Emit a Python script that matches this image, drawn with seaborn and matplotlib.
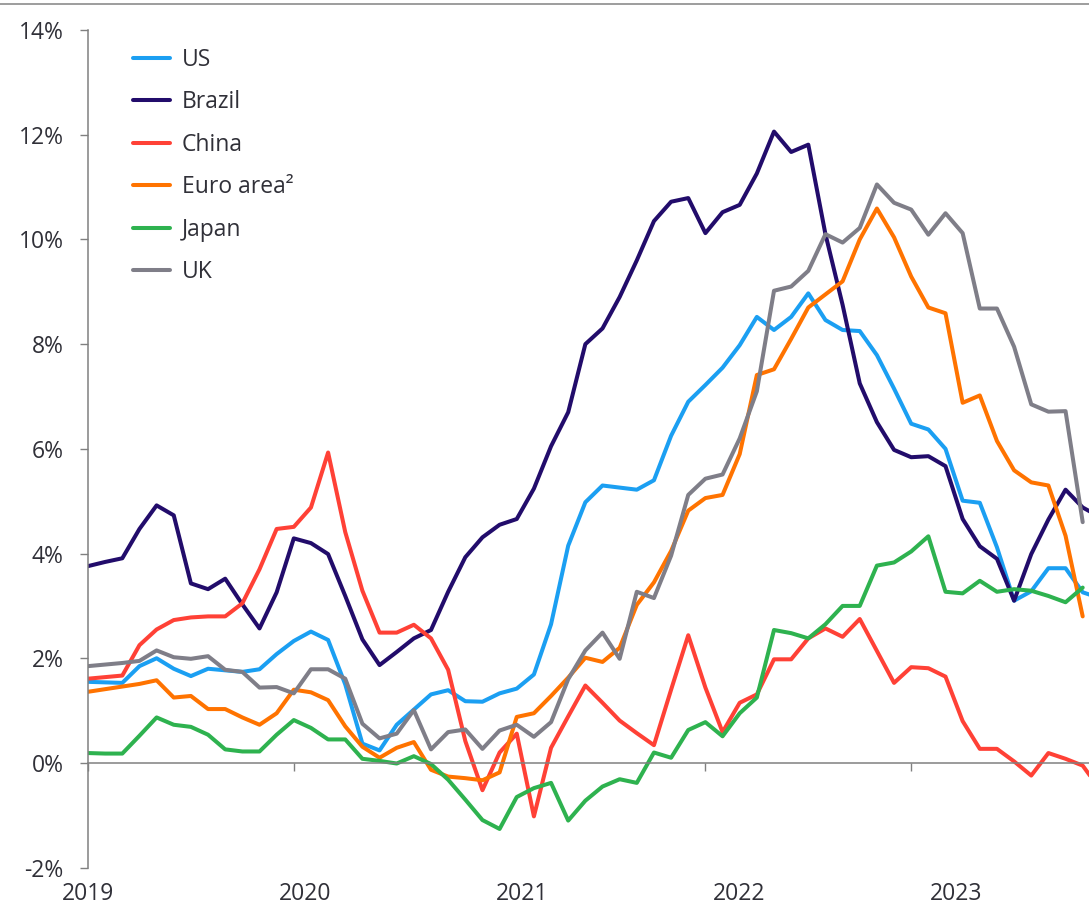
import matplotlib
matplotlib.use("Agg")
import matplotlib.pyplot as plt
from matplotlib.lines import Line2D
from matplotlib.ticker import FuncFormatter, FixedLocator
import seaborn as sns
import pandas as pd

# Monthly headline inflation, % y/y (month 0 sits on the "2019" tick)
us = [1.55, 1.54, 1.53, 1.85, 2.00, 1.80, 1.66, 1.80, 1.77, 1.74, 1.79, 2.08,
      2.33, 2.51, 2.35, 1.50, 0.37, 0.24, 0.73, 1.02, 1.31, 1.39, 1.18, 1.17,
      1.33, 1.42, 1.69, 2.65, 4.15, 4.98, 5.30, 5.26, 5.22, 5.40, 6.25, 6.90,
      7.22, 7.55, 7.98, 8.52, 8.27, 8.52, 8.97, 8.46, 8.27, 8.25, 7.79, 7.15,
      6.48, 6.37, 6.00, 5.01, 4.97, 4.12, 3.10, 3.28, 3.72, 3.72, 3.26, 3.15]
brazil = [3.76, 3.84, 3.91, 4.47, 4.92, 4.73, 3.43, 3.32, 3.52, 3.03, 2.57, 3.26,
          4.29, 4.20, 3.99, 3.19, 2.36, 1.87, 2.12, 2.38, 2.54, 3.27, 3.93, 4.31,
          4.55, 4.66, 5.24, 6.05, 6.70, 8.00, 8.30, 8.90, 9.60, 10.35, 10.72, 10.79,
          10.12, 10.52, 10.66, 11.26, 12.06, 11.67, 11.81, 10.10, 8.75, 7.25, 6.51, 5.98,
          5.84, 5.86, 5.67, 4.66, 4.14, 3.90, 3.10, 3.99, 4.65, 5.22, 4.88, 4.70]
china = [1.61, 1.64, 1.67, 2.25, 2.55, 2.73, 2.78, 2.80, 2.80, 3.05, 3.70, 4.47,
         4.51, 4.88, 5.93, 4.41, 3.29, 2.49, 2.49, 2.64, 2.38, 1.78, 0.42, -0.52,
         0.20, 0.56, -1.02, 0.29, 0.89, 1.48, 1.15, 0.81, 0.57, 0.34, 1.40, 2.44,
         1.44, 0.59, 1.15, 1.31, 1.98, 1.98, 2.38, 2.57, 2.41, 2.75, 2.14, 1.53,
         1.83, 1.81, 1.65, 0.80, 0.27, 0.27, 0.03, -0.24, 0.19, 0.08, -0.05, -0.50]
euro = [1.36, 1.41, 1.46, 1.51, 1.58, 1.25, 1.28, 1.03, 1.03, 0.87, 0.73, 0.95,
        1.40, 1.35, 1.20, 0.70, 0.31, 0.10, 0.29, 0.40, -0.13, -0.26, -0.29, -0.33,
        -0.18, 0.88, 0.95, 1.28, 1.63, 2.01, 1.93, 2.20, 3.02, 3.45, 4.05, 4.82,
        5.06, 5.12, 5.90, 7.41, 7.52, 8.10, 8.70, 8.95, 9.20, 10.00, 10.59, 10.04,
        9.29, 8.70, 8.59, 6.88, 7.02, 6.15, 5.59, 5.36, 5.30, 4.34, 2.80]
japan = [0.19, 0.18, 0.18, 0.52, 0.87, 0.73, 0.69, 0.54, 0.26, 0.22, 0.22, 0.54,
         0.82, 0.67, 0.45, 0.45, 0.08, 0.04, -0.01, 0.13, -0.02, -0.32, -0.70, -1.09,
         -1.26, -0.65, -0.48, -0.38, -1.10, -0.72, -0.45, -0.31, -0.38, 0.20, 0.10, 0.63,
         0.78, 0.51, 0.95, 1.25, 2.54, 2.48, 2.38, 2.65, 3.00, 3.00, 3.77, 3.83,
         4.04, 4.33, 3.27, 3.24, 3.48, 3.27, 3.32, 3.29, 3.19, 3.07, 3.35]
uk = [1.85, 1.88, 1.91, 1.95, 2.15, 2.02, 1.99, 2.04, 1.78, 1.74, 1.44, 1.45,
      1.33, 1.79, 1.79, 1.61, 0.75, 0.47, 0.56, 1.01, 0.26, 0.59, 0.64, 0.27,
      0.62, 0.73, 0.50, 0.78, 1.60, 2.15, 2.49, 1.99, 3.27, 3.15, 3.96, 5.12,
      5.43, 5.51, 6.20, 7.10, 9.02, 9.10, 9.40, 10.10, 9.94, 10.22, 11.05, 10.70,
      10.57, 10.09, 10.50, 10.12, 8.68, 8.68, 7.95, 6.85, 6.71, 6.72, 4.60]

series_names = ["US", "Brazil", "China", "Euro area\u00b2", "Japan", "UK"]
series_values = [us, brazil, china, euro, japan, uk]
colors = ["#1B9FF2", "#220C6B", "#FF4136", "#FF7300", "#2EB24F", "#7F7E88"]

years = ["2019", "2020", "2021", "2022", "2023"]
yticks = [-2, 0, 2, 4, 6, 8, 10, 12, 14]

TEXT = "#303038"
AXIS = "#808080"

rows = []
for name, vals in zip(series_names, series_values):
    for m, v in enumerate(vals):
        rows.append({"series": name, "month": m, "value": v})
df = pd.DataFrame(rows)

sns.set_theme(style="white")
plt.rcParams["font.family"] = ["Open Sans", "DejaVu Sans"]

W, H = 1089, 906
fig = plt.figure(figsize=(W / 100, H / 100), dpi=100)
ax = fig.add_axes([88 / W, 1 - 867.7 / H, 1 - 88 / W, (867.7 - 30) / H])

sns.lineplot(data=df, x="month", y="value", hue="series", hue_order=series_names,
             palette=colors, linewidth=2.9, ax=ax, legend=False,
             estimator=None, sort=False)

ax.set_xlim(0, (W - 88) / 17.15)
ax.set_ylim(-2, 14)
ax.set_xlabel("")
ax.set_ylabel("")

# axes styling
for s in ["top", "right"]:
    ax.spines[s].set_visible(False)
ax.spines["bottom"].set_position(("data", 0))
for s in ["left", "bottom"]:
    ax.spines[s].set_color(AXIS)
    ax.spines[s].set_linewidth(1.1)

ax.yaxis.set_major_locator(FixedLocator(yticks))
ax.yaxis.set_major_formatter(FuncFormatter(lambda v, p: f"{v:.0f}%"))
ax.tick_params(axis="y", direction="out", length=5.5, width=1, color=AXIS,
               pad=12, labelsize=16.5, labelcolor=TEXT, left=True)
ax.xaxis.set_major_locator(FixedLocator([0, 12, 24, 36, 48]))
ax.tick_params(axis="x", direction="out", length=6, width=1, color=AXIS,
               labelbottom=False, bottom=True)
ax.grid(False)

# year labels sit at the bottom of the figure, not on the zero line
for i, yr in enumerate(years):
    ax.text(i * 12.65, -0.038, yr, transform=ax.get_xaxis_transform(),
            ha="center", va="baseline", fontsize=16.5, color=TEXT)

handles = [Line2D([0], [0], color=c, lw=2.9, solid_capstyle="round") for c in colors]
ax.legend(handles, series_names, loc="upper left", bbox_to_anchor=(0.045, 0.979),
          frameon=False, fontsize=16.5, labelcolor=TEXT, handlelength=1.6,
          handletextpad=0.52, labelspacing=0.81, borderpad=0, borderaxespad=0)

# thin rule across the top of the figure
fig.add_artist(Line2D([0, 1], [1 - 3.5 / H, 1 - 3.5 / H], transform=fig.transFigure,
                      color="#8C8C8C", lw=1.2))

fig.savefig("out.png", dpi=100, facecolor="white")
